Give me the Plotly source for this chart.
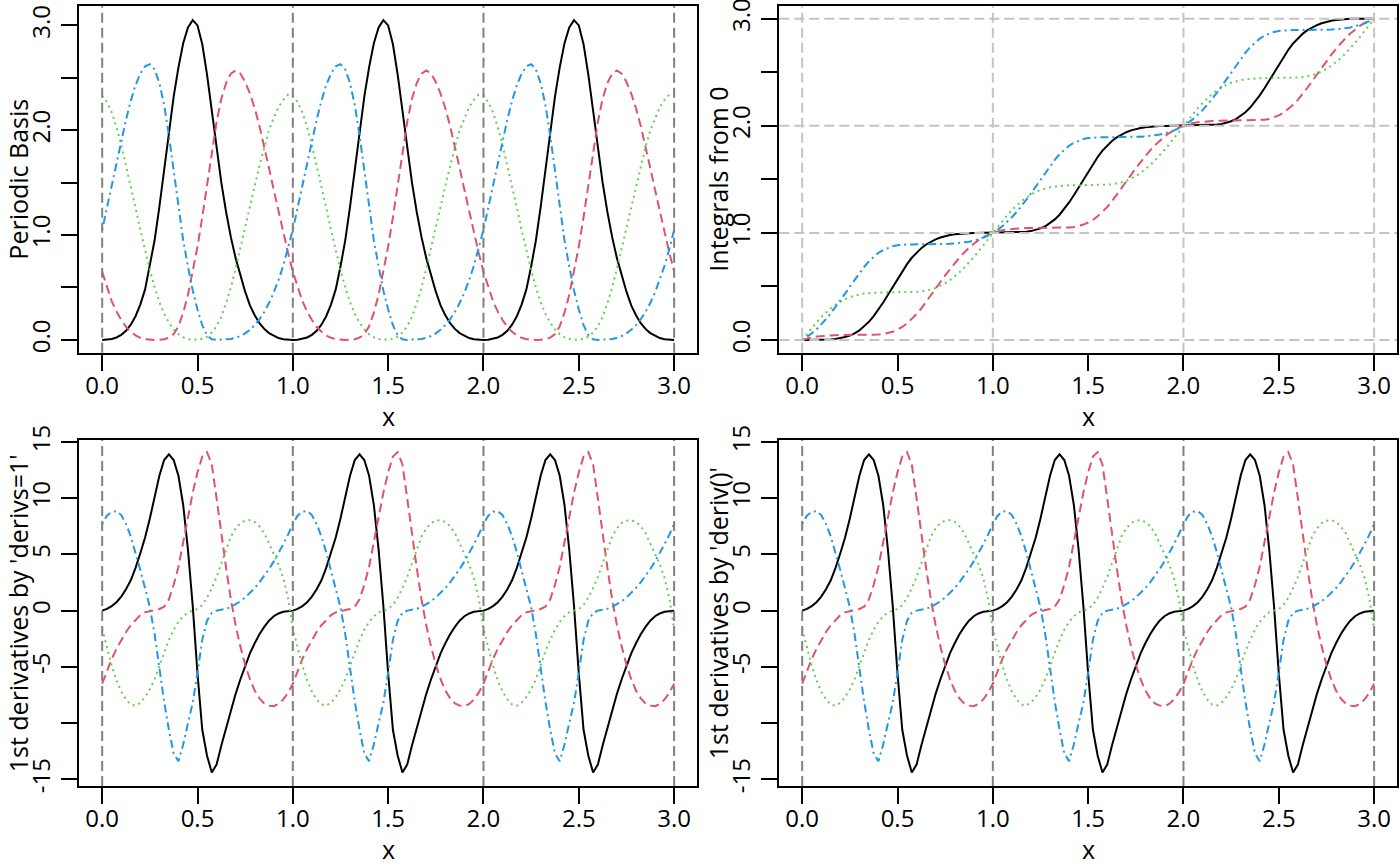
import plotly.graph_objects as go

# sample points, step 0.025 over three periods
X = [
    0.000, 0.025, 0.050, 0.075, 0.100, 0.125, 0.150, 0.175,
    0.200, 0.225, 0.250, 0.275, 0.300, 0.325, 0.350, 0.375,
    0.400, 0.425, 0.450, 0.475, 0.500, 0.525, 0.550, 0.575,
    0.600, 0.625, 0.650, 0.675, 0.700, 0.725, 0.750, 0.775,
    0.800, 0.825, 0.850, 0.875, 0.900, 0.925, 0.950, 0.975,
    1.000, 1.025, 1.050, 1.075, 1.100, 1.125, 1.150, 1.175,
    1.200, 1.225, 1.250, 1.275, 1.300, 1.325, 1.350, 1.375,
    1.400, 1.425, 1.450, 1.475, 1.500, 1.525, 1.550, 1.575,
    1.600, 1.625, 1.650, 1.675, 1.700, 1.725, 1.750, 1.775,
    1.800, 1.825, 1.850, 1.875, 1.900, 1.925, 1.950, 1.975,
    2.000, 2.025, 2.050, 2.075, 2.100, 2.125, 2.150, 2.175,
    2.200, 2.225, 2.250, 2.275, 2.300, 2.325, 2.350, 2.375,
    2.400, 2.425, 2.450, 2.475, 2.500, 2.525, 2.550, 2.575,
    2.600, 2.625, 2.650, 2.675, 2.700, 2.725, 2.750, 2.775,
    2.800, 2.825, 2.850, 2.875, 2.900, 2.925, 2.950, 2.975,
    3.000,
]

# periodic basis
basis_black = [
    0, 0.002, 0.009, 0.023, 0.048, 0.087, 0.145, 0.226,
    0.337, 0.482, 0.70, 0.95, 1.27, 1.63, 1.98, 2.32,
    2.60, 2.83, 2.98, 3.05, 3.00, 2.82, 2.53, 2.18,
    1.82, 1.50, 1.22, 0.98, 0.78, 0.61, 0.46, 0.33,
    0.235, 0.16, 0.105, 0.065, 0.038, 0.018, 0.007, 0.001,
    0, 0.002, 0.009, 0.023, 0.048, 0.087, 0.145, 0.226,
    0.337, 0.482, 0.70, 0.95, 1.27, 1.63, 1.98, 2.32,
    2.60, 2.83, 2.98, 3.05, 3.00, 2.82, 2.53, 2.18,
    1.82, 1.50, 1.22, 0.98, 0.78, 0.61, 0.46, 0.33,
    0.235, 0.16, 0.105, 0.065, 0.038, 0.018, 0.007, 0.001,
    0, 0.002, 0.009, 0.023, 0.048, 0.087, 0.145, 0.226,
    0.337, 0.482, 0.70, 0.95, 1.27, 1.63, 1.98, 2.32,
    2.60, 2.83, 2.98, 3.05, 3.00, 2.82, 2.53, 2.18,
    1.82, 1.50, 1.22, 0.98, 0.78, 0.61, 0.46, 0.33,
    0.235, 0.16, 0.105, 0.065, 0.038, 0.018, 0.007, 0.001,
    0,
]
basis_red = [
    0.65, 0.50, 0.37, 0.27, 0.19, 0.125, 0.078, 0.043,
    0.02, 0.007, 0.001, 0.0, 0.001, 0.006, 0.022, 0.055,
    0.13, 0.26, 0.43, 0.65, 0.89, 1.17, 1.47, 1.80,
    2.08, 2.30, 2.45, 2.54, 2.57, 2.54, 2.46, 2.35,
    2.21, 2.04, 1.85, 1.64, 1.43, 1.22, 1.02, 0.83,
    0.65, 0.50, 0.37, 0.27, 0.19, 0.125, 0.078, 0.043,
    0.02, 0.007, 0.001, 0.0, 0.001, 0.006, 0.022, 0.055,
    0.13, 0.26, 0.43, 0.65, 0.89, 1.17, 1.47, 1.80,
    2.08, 2.30, 2.45, 2.54, 2.57, 2.54, 2.46, 2.35,
    2.21, 2.04, 1.85, 1.64, 1.43, 1.22, 1.02, 0.83,
    0.65, 0.50, 0.37, 0.27, 0.19, 0.125, 0.078, 0.043,
    0.02, 0.007, 0.001, 0.0, 0.001, 0.006, 0.022, 0.055,
    0.13, 0.26, 0.43, 0.65, 0.89, 1.17, 1.47, 1.80,
    2.08, 2.30, 2.45, 2.54, 2.57, 2.54, 2.46, 2.35,
    2.21, 2.04, 1.85, 1.64, 1.43, 1.22, 1.02, 0.83,
    0.65,
]
basis_green = [
    2.33, 2.27, 2.17, 2.03, 1.86, 1.67, 1.47, 1.26,
    1.05, 0.85, 0.67, 0.50, 0.36, 0.25, 0.165, 0.10,
    0.055, 0.025, 0.008, 0.0, 0.002, 0.01, 0.03, 0.07,
    0.13, 0.22, 0.35, 0.50, 0.68, 0.87, 1.07, 1.27,
    1.47, 1.66, 1.84, 2.00, 2.12, 2.22, 2.29, 2.34,
    2.33, 2.27, 2.17, 2.03, 1.86, 1.67, 1.47, 1.26,
    1.05, 0.85, 0.67, 0.50, 0.36, 0.25, 0.165, 0.10,
    0.055, 0.025, 0.008, 0.0, 0.002, 0.01, 0.03, 0.07,
    0.13, 0.22, 0.35, 0.50, 0.68, 0.87, 1.07, 1.27,
    1.47, 1.66, 1.84, 2.00, 2.12, 2.22, 2.29, 2.34,
    2.33, 2.27, 2.17, 2.03, 1.86, 1.67, 1.47, 1.26,
    1.05, 0.85, 0.67, 0.50, 0.36, 0.25, 0.165, 0.10,
    0.055, 0.025, 0.008, 0.0, 0.002, 0.01, 0.03, 0.07,
    0.13, 0.22, 0.35, 0.50, 0.68, 0.87, 1.07, 1.27,
    1.47, 1.66, 1.84, 2.00, 2.12, 2.22, 2.29, 2.34,
    2.33,
]
basis_blue = [
    1.05, 1.26, 1.47, 1.69, 1.90, 2.10, 2.28, 2.43,
    2.54, 2.61, 2.63, 2.58, 2.45, 2.24, 1.95, 1.61,
    1.26, 0.95, 0.70, 0.47, 0.29, 0.14, 0.045, 0.006,
    0.0, 0.001, 0.003, 0.009, 0.02, 0.037, 0.062, 0.096,
    0.141, 0.197, 0.267, 0.352, 0.453, 0.571, 0.709, 0.867,
    1.05, 1.26, 1.47, 1.69, 1.90, 2.10, 2.28, 2.43,
    2.54, 2.61, 2.63, 2.58, 2.45, 2.24, 1.95, 1.61,
    1.26, 0.95, 0.70, 0.47, 0.29, 0.14, 0.045, 0.006,
    0.0, 0.001, 0.003, 0.009, 0.02, 0.037, 0.062, 0.096,
    0.141, 0.197, 0.267, 0.352, 0.453, 0.571, 0.709, 0.867,
    1.05, 1.26, 1.47, 1.69, 1.90, 2.10, 2.28, 2.43,
    2.54, 2.61, 2.63, 2.58, 2.45, 2.24, 1.95, 1.61,
    1.26, 0.95, 0.70, 0.47, 0.29, 0.14, 0.045, 0.006,
    0.0, 0.001, 0.003, 0.009, 0.02, 0.037, 0.062, 0.096,
    0.141, 0.197, 0.267, 0.352, 0.453, 0.571, 0.709, 0.867,
    1.05,
]

# integrals from 0 (top-right panel)
integral_black = [
    0.000, 0.000, 0.000, 0.001, 0.001, 0.003, 0.006, 0.011,
    0.017, 0.028, 0.042, 0.062, 0.090, 0.126, 0.170, 0.223,
    0.284, 0.351, 0.423, 0.497, 0.572, 0.644, 0.709, 0.768,
    0.817, 0.858, 0.892, 0.919, 0.940, 0.957, 0.971, 0.980,
    0.987, 0.992, 0.996, 0.998, 0.999, 1.000, 1.000, 1.000,
    1.000, 1.000, 1.000, 1.001, 1.001, 1.003, 1.006, 1.011,
    1.017, 1.028, 1.042, 1.062, 1.090, 1.126, 1.170, 1.223,
    1.284, 1.351, 1.423, 1.497, 1.572, 1.644, 1.709, 1.768,
    1.817, 1.858, 1.892, 1.919, 1.940, 1.957, 1.971, 1.980,
    1.987, 1.992, 1.996, 1.998, 1.999, 2.000, 2.000, 2.000,
    2.000, 2.000, 2.000, 2.001, 2.001, 2.003, 2.006, 2.011,
    2.017, 2.028, 2.042, 2.062, 2.090, 2.126, 2.170, 2.223,
    2.284, 2.351, 2.423, 2.497, 2.572, 2.644, 2.709, 2.768,
    2.817, 2.858, 2.892, 2.919, 2.940, 2.957, 2.971, 2.980,
    2.987, 2.992, 2.996, 2.998, 2.999, 3.000, 3.000, 3.000,
    3.000,
]
integral_red = [
    0.000, 0.014, 0.025, 0.033, 0.038, 0.042, 0.045, 0.046,
    0.047, 0.047, 0.047, 0.047, 0.047, 0.047, 0.048, 0.049,
    0.051, 0.056, 0.064, 0.078, 0.097, 0.122, 0.155, 0.195,
    0.242, 0.296, 0.355, 0.416, 0.479, 0.542, 0.603, 0.662,
    0.718, 0.771, 0.818, 0.861, 0.899, 0.932, 0.959, 0.982,
    1.000, 1.014, 1.025, 1.033, 1.038, 1.042, 1.045, 1.046,
    1.047, 1.047, 1.047, 1.047, 1.047, 1.047, 1.048, 1.049,
    1.051, 1.056, 1.064, 1.078, 1.097, 1.122, 1.155, 1.195,
    1.242, 1.296, 1.355, 1.416, 1.479, 1.542, 1.603, 1.662,
    1.718, 1.771, 1.818, 1.861, 1.899, 1.932, 1.959, 1.982,
    2.000, 2.014, 2.025, 2.033, 2.038, 2.042, 2.045, 2.046,
    2.047, 2.047, 2.047, 2.047, 2.047, 2.047, 2.048, 2.049,
    2.051, 2.056, 2.064, 2.078, 2.097, 2.122, 2.155, 2.195,
    2.242, 2.296, 2.355, 2.416, 2.479, 2.542, 2.603, 2.662,
    2.718, 2.771, 2.818, 2.861, 2.899, 2.932, 2.959, 2.982,
    3.000,
]
integral_green = [
    0.000, 0.057, 0.112, 0.164, 0.213, 0.257, 0.296, 0.330,
    0.358, 0.382, 0.401, 0.415, 0.426, 0.434, 0.439, 0.442,
    0.444, 0.445, 0.445, 0.445, 0.445, 0.446, 0.446, 0.447,
    0.450, 0.454, 0.461, 0.472, 0.486, 0.506, 0.530, 0.559,
    0.593, 0.632, 0.676, 0.723, 0.774, 0.828, 0.884, 0.942,
    1.000, 1.057, 1.112, 1.164, 1.213, 1.257, 1.296, 1.330,
    1.358, 1.382, 1.401, 1.415, 1.426, 1.434, 1.439, 1.442,
    1.444, 1.445, 1.445, 1.445, 1.445, 1.446, 1.446, 1.447,
    1.450, 1.454, 1.461, 1.472, 1.486, 1.506, 1.530, 1.559,
    1.593, 1.632, 1.676, 1.723, 1.774, 1.828, 1.884, 1.942,
    2.000, 2.057, 2.112, 2.164, 2.213, 2.257, 2.296, 2.330,
    2.358, 2.382, 2.401, 2.415, 2.426, 2.434, 2.439, 2.442,
    2.444, 2.445, 2.445, 2.445, 2.445, 2.446, 2.446, 2.447,
    2.450, 2.454, 2.461, 2.472, 2.486, 2.506, 2.530, 2.559,
    2.593, 2.632, 2.676, 2.723, 2.774, 2.828, 2.884, 2.942,
    3.000,
]
integral_blue = [
    0.000, 0.029, 0.062, 0.101, 0.146, 0.195, 0.249, 0.308,
    0.369, 0.433, 0.498, 0.562, 0.624, 0.682, 0.734, 0.778,
    0.814, 0.841, 0.861, 0.876, 0.885, 0.890, 0.893, 0.893,
    0.893, 0.893, 0.894, 0.894, 0.894, 0.895, 0.896, 0.898,
    0.901, 0.905, 0.911, 0.918, 0.928, 0.941, 0.957, 0.976,
    1.000, 1.029, 1.062, 1.101, 1.146, 1.195, 1.249, 1.308,
    1.369, 1.433, 1.498, 1.562, 1.624, 1.682, 1.734, 1.778,
    1.814, 1.841, 1.861, 1.876, 1.885, 1.890, 1.893, 1.893,
    1.893, 1.893, 1.894, 1.894, 1.894, 1.895, 1.896, 1.898,
    1.901, 1.905, 1.911, 1.918, 1.928, 1.941, 1.957, 1.976,
    2.000, 2.029, 2.062, 2.101, 2.146, 2.195, 2.249, 2.308,
    2.369, 2.433, 2.498, 2.562, 2.624, 2.682, 2.734, 2.778,
    2.814, 2.841, 2.861, 2.876, 2.885, 2.890, 2.893, 2.893,
    2.893, 2.893, 2.894, 2.894, 2.894, 2.895, 2.896, 2.898,
    2.901, 2.905, 2.911, 2.918, 2.928, 2.941, 2.957, 2.976,
    3.000,
]

# first derivatives (bottom panels, both show the same values)
deriv_black = [
    0, 0.15, 0.4, 0.75, 1.25, 1.9, 2.7, 3.8,
    5.1, 6.5, 8.2, 10.1, 12.0, 13.4, 13.9, 13.4,
    12.0, 9.4, 5.4, 0.4, -5.6, -10.6, -12.9, -14.4,
    -13.7, -12.0, -10.4, -8.8, -7.4, -6.1, -4.9, -3.8,
    -2.9, -2.1, -1.45, -0.9, -0.5, -0.25, -0.1, -0.02,
    0, 0.15, 0.4, 0.75, 1.25, 1.9, 2.7, 3.8,
    5.1, 6.5, 8.2, 10.1, 12.0, 13.4, 13.9, 13.4,
    12.0, 9.4, 5.4, 0.4, -5.6, -10.6, -12.9, -14.4,
    -13.7, -12.0, -10.4, -8.8, -7.4, -6.1, -4.9, -3.8,
    -2.9, -2.1, -1.45, -0.9, -0.5, -0.25, -0.1, -0.02,
    0, 0.15, 0.4, 0.75, 1.25, 1.9, 2.7, 3.8,
    5.1, 6.5, 8.2, 10.1, 12.0, 13.4, 13.9, 13.4,
    12.0, 9.4, 5.4, 0.4, -5.6, -10.6, -12.9, -14.4,
    -13.7, -12.0, -10.4, -8.8, -7.4, -6.1, -4.9, -3.8,
    -2.9, -2.1, -1.45, -0.9, -0.5, -0.25, -0.1, -0.02,
    0,
]
deriv_red = [
    -6.5, -5.4, -4.3, -3.4, -2.6, -1.9, -1.3, -0.8,
    -0.4, -0.15, -0.02, 0.05, 0.15, 0.35, 1.0, 2.3,
    3.9, 6.2, 8.4, 10.5, 12.3, 13.7, 14.1, 13.0,
    10.0, 6.7, 3.8, 1.0, -1.3, -3.2, -4.8, -6.1,
    -7.1, -7.8, -8.25, -8.45, -8.5, -8.3, -7.9, -7.3,
    -6.5, -5.4, -4.3, -3.4, -2.6, -1.9, -1.3, -0.8,
    -0.4, -0.15, -0.02, 0.05, 0.15, 0.35, 1.0, 2.3,
    3.9, 6.2, 8.4, 10.5, 12.3, 13.7, 14.1, 13.0,
    10.0, 6.7, 3.8, 1.0, -1.3, -3.2, -4.8, -6.1,
    -7.1, -7.8, -8.25, -8.45, -8.5, -8.3, -7.9, -7.3,
    -6.5, -5.4, -4.3, -3.4, -2.6, -1.9, -1.3, -0.8,
    -0.4, -0.15, -0.02, 0.05, 0.15, 0.35, 1.0, 2.3,
    3.9, 6.2, 8.4, 10.5, 12.3, 13.7, 14.1, 13.0,
    10.0, 6.7, 3.8, 1.0, -1.3, -3.2, -4.8, -6.1,
    -7.1, -7.8, -8.25, -8.45, -8.5, -8.3, -7.9, -7.3,
    -6.5,
]
deriv_green = [
    -1.6, -3.3, -4.9, -6.2, -7.2, -7.9, -8.35, -8.45,
    -8.2, -7.7, -7.0, -6.1, -4.9, -3.6, -2.6, -1.7,
    -1.0, -0.5, -0.15, 0.0, 0.15, 0.5, 1.15, 2.0,
    3.0, 4.2, 5.5, 6.6, 7.3, 7.8, 8.0, 8.05,
    7.9, 7.5, 6.9, 6.0, 5.0, 4.1, 2.9, 1.1,
    -1.6, -3.3, -4.9, -6.2, -7.2, -7.9, -8.35, -8.45,
    -8.2, -7.7, -7.0, -6.1, -4.9, -3.6, -2.6, -1.7,
    -1.0, -0.5, -0.15, 0.0, 0.15, 0.5, 1.15, 2.0,
    3.0, 4.2, 5.5, 6.6, 7.3, 7.8, 8.0, 8.05,
    7.9, 7.5, 6.9, 6.0, 5.0, 4.1, 2.9, 1.1,
    -1.6, -3.3, -4.9, -6.2, -7.2, -7.9, -8.35, -8.45,
    -8.2, -7.7, -7.0, -6.1, -4.9, -3.6, -2.6, -1.7,
    -1.0, -0.5, -0.15, 0.0, 0.15, 0.5, 1.15, 2.0,
    3.0, 4.2, 5.5, 6.6, 7.3, 7.8, 8.0, 8.05,
    7.9, 7.5, 6.9, 6.0, 5.0, 4.1, 2.9, 1.1,
    -1.6,
]
deriv_blue = [
    7.7, 8.45, 8.8, 8.85, 8.5, 7.7, 6.6, 5.2,
    3.6, 2.0, 0.3, -2.1, -5.1, -8.1, -10.6, -12.7,
    -13.4, -11.9, -10.0, -8.2, -5.5, -2.6, -0.9, -0.2,
    0.0, 0.06, 0.16, 0.33, 0.55, 0.83, 1.17, 1.56,
    2.01, 2.52, 3.08, 3.70, 4.38, 5.12, 5.91, 6.76,
    7.7, 8.45, 8.8, 8.85, 8.5, 7.7, 6.6, 5.2,
    3.6, 2.0, 0.3, -2.1, -5.1, -8.1, -10.6, -12.7,
    -13.4, -11.9, -10.0, -8.2, -5.5, -2.6, -0.9, -0.2,
    0.0, 0.06, 0.16, 0.33, 0.55, 0.83, 1.17, 1.56,
    2.01, 2.52, 3.08, 3.70, 4.38, 5.12, 5.91, 6.76,
    7.7, 8.45, 8.8, 8.85, 8.5, 7.7, 6.6, 5.2,
    3.6, 2.0, 0.3, -2.1, -5.1, -8.1, -10.6, -12.7,
    -13.4, -11.9, -10.0, -8.2, -5.5, -2.6, -0.9, -0.2,
    0.0, 0.06, 0.16, 0.33, 0.55, 0.83, 1.17, 1.56,
    2.01, 2.52, 3.08, 3.70, 4.38, 5.12, 5.91, 6.76,
    7.7,
]

x_ticks = [0, 0.5, 1, 1.5, 2, 2.5, 3]
x_ticktext = ["0.0", "0.5", "1.0", "1.5", "2.0", "2.5", "3.0"]
y_ticks_top = [0, 0.5, 1, 1.5, 2, 2.5, 3]
y_ticktext_top = ["0.0", "", "1.0", "", "2.0", "", "3.0"]
y_ticks_bottom = [-15, -10, -5, 0, 5, 10, 15]
y_ticktext_bottom = ["-15", "", "-5", "0", "5", "10", "15"]
period_marks = [0, 1, 2, 3]

colors = ["#000000", "#DF536B", "#61D04F", "#2297E6"]
dashes = ["solid", "9px,5px", "2px,4px", "2px,4px,8px,4px"]

FONT = "Open Sans"
FONT_SIZE = 25
TICK_SIZE = 24
W, H = 1400, 866

# plot boxes in pixels: (left, right, top, bottom) and the y range they show
boxes = {
    1: (79.3, 697.0, 6.0, 352.7, [-0.122, 3.185]),
    2: (779.3, 1397.0, 6.0, 352.7, [-0.118, 3.118]),
    3: (79.3, 697.0, 440.0, 786.0, [-15.6, 15.18]),
    4: (779.3, 1397.0, 440.0, 786.0, [-15.6, 15.18]),
}


def fx(px):
    return px / W


def fy(py):
    return 1 - py / H


panels = [
    (1, [basis_black, basis_red, basis_green, basis_blue], "Periodic Basis", "top"),
    (2, [integral_black, integral_red, integral_green, integral_blue], "Integrals from 0", "top"),
    (3, [deriv_black, deriv_red, deriv_green, deriv_blue], "1st derivatives by 'derivs=1'", "bottom"),
    (4, [deriv_black, deriv_red, deriv_green, deriv_blue], "1st derivatives by 'deriv()'", "bottom"),
]

fig = go.Figure()

axis_style = dict(
    showline=True,
    linecolor="black",
    linewidth=2,
    mirror=True,
    ticks="outside",
    ticklen=16,
    tickwidth=2,
    tickcolor="black",
    showgrid=False,
    zeroline=False,
    automargin=False,
    ticklabeloverflow="allow",
    tickfont=dict(family=FONT, size=TICK_SIZE, color="black"),
)

annotations = []
shapes = []

for idx, series, ytitle, kind in panels:
    left, right, top, bottom, yrange = boxes[idx]
    xname = "x" if idx == 1 else f"x{idx}"
    yname = "y" if idx == 1 else f"y{idx}"

    for values, color, dash in zip(series, colors, dashes):
        fig.add_trace(go.Scatter(
            x=X,
            y=values,
            mode="lines",
            xaxis=xname,
            yaxis=yname,
            showlegend=False,
            line=dict(color=color, width=2, dash=dash),
            hoverinfo="skip",
        ))

    if kind == "top":
        yticks, yticktext = y_ticks_top, y_ticktext_top
    else:
        yticks, yticktext = y_ticks_bottom, y_ticktext_bottom

    fig.layout[xname.replace("x", "xaxis")] = dict(
        axis_style,
        domain=[fx(left), fx(right)],
        anchor=yname,
        range=[-0.12, 3.12],
        tickvals=x_ticks,
        ticktext=x_ticktext,
        ticklabelstandoff=-6,
    )
    fig.layout[yname.replace("y", "yaxis")] = dict(
        axis_style,
        domain=[fy(bottom), fy(top)],
        anchor=xname,
        range=yrange,
        tickvals=yticks,
        ticktext=yticktext,
        tickangle=-90,
        ticklabelstandoff=2,
    )

    # reference lines
    if idx == 2:
        for v in period_marks:
            shapes.append(dict(type="line", xref=xname, yref=f"{yname} domain",
                               x0=v, x1=v, y0=0, y1=1, layer="above",
                               line=dict(color="#C4C4C4", width=2, dash="10px,5px")))
            shapes.append(dict(type="line", xref=f"{xname} domain", yref=yname,
                               x0=0, x1=1, y0=v, y1=v, layer="above",
                               line=dict(color="#C4C4C4", width=2, dash="10px,5px")))
    else:
        for v in period_marks:
            shapes.append(dict(type="line", xref=xname, yref=f"{yname} domain",
                               x0=v, x1=v, y0=0, y1=1, layer="above",
                               line=dict(color="#808080", width=2, dash="10px,5px")))

    # axis titles
    annotations.append(dict(
        text=ytitle, xref="paper", yref="paper",
        x=fx(left - 61), y=fy((top + bottom) / 2),
        textangle=-90, showarrow=False,
        xanchor="center", yanchor="middle",
        font=dict(family=FONT, size=FONT_SIZE, color="black"),
    ))
    annotations.append(dict(
        text="x", xref="paper", yref="paper",
        x=fx((left + right) / 2), y=fy(bottom + 63),
        showarrow=False, xanchor="center", yanchor="middle",
        font=dict(family=FONT, size=FONT_SIZE, color="black"),
    ))

fig.update_layout(
    width=W,
    height=H,
    margin=dict(l=0, r=0, t=0, b=0),
    paper_bgcolor="white",
    plot_bgcolor="white",
    font=dict(family=FONT, size=FONT_SIZE, color="black"),
    annotations=annotations,
    shapes=shapes,
)

# drop the default 8px page margin so the figure sits at the window corner
fig.write_html(
    "out.html",
    config={"displayModeBar": False},
    post_script="document.body.style.margin = '0px';",
)
